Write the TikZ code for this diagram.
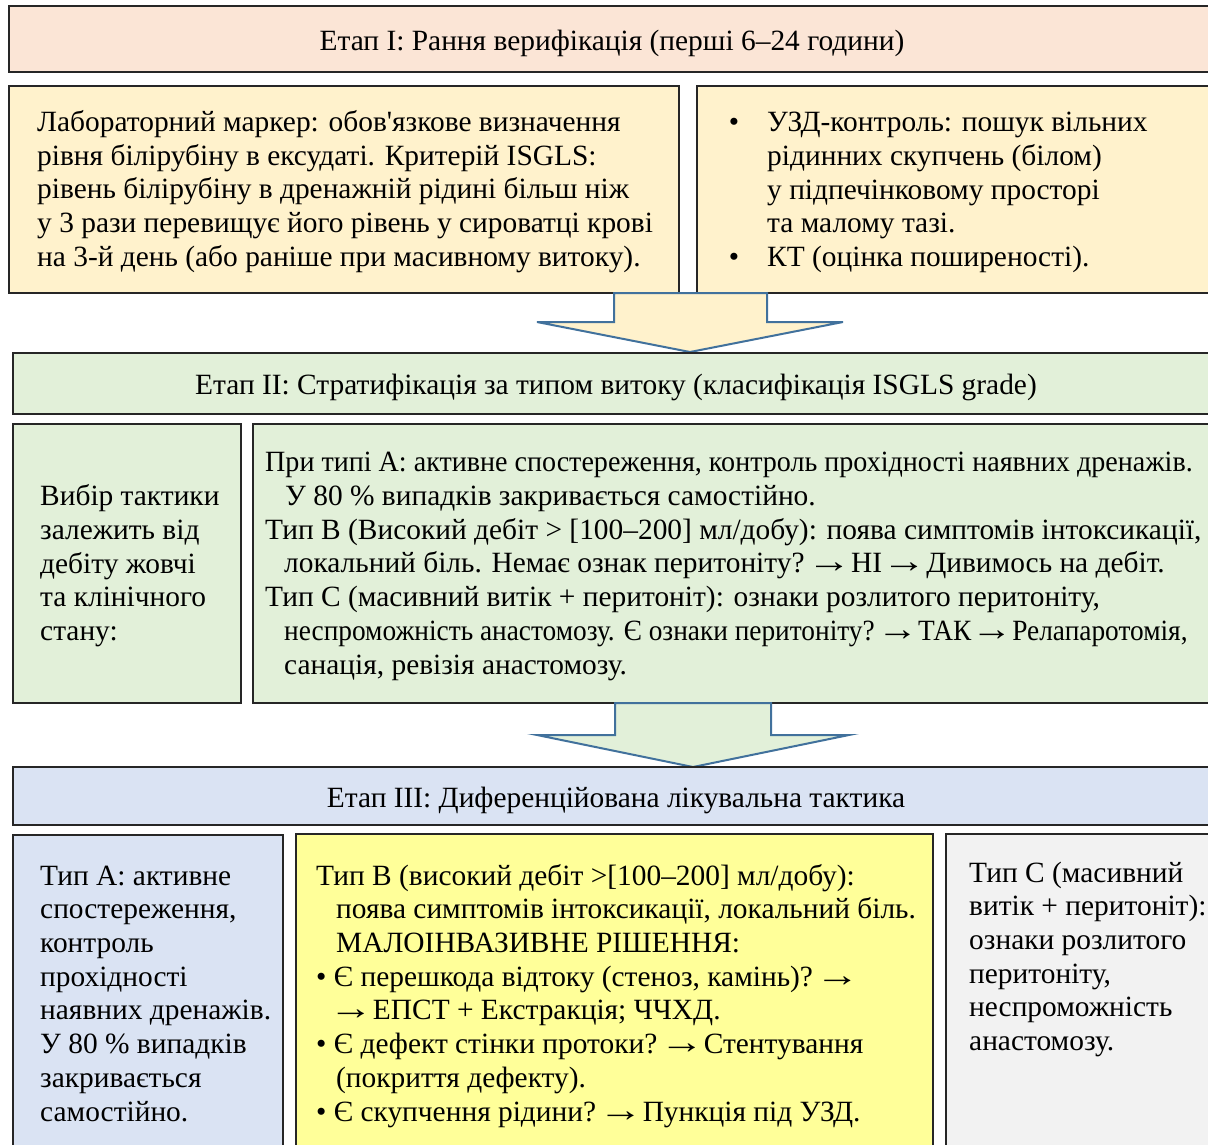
\documentclass[tikz,border=0pt]{standalone}
\usepackage{fontspec}
\usepackage{graphicx}
\setmainfont{Liberation Serif}
\newfontfamily\plainserif{Liberation Serif}
\newcommand{\myarr}{\sbox0{→}\makebox[\wd0][c]{\scalebox{1.5}[1.15]{→}}}
\usetikzlibrary{calc}
\definecolor{pinkF}{HTML}{FBE5D6}
\definecolor{yelF}{HTML}{FFF2CC}
\definecolor{grnF}{HTML}{E2F0D9}
\definecolor{bluF}{HTML}{DAE3F3}
\definecolor{ylwF}{HTML}{FFFF99}
\definecolor{gryF}{HTML}{F2F2F2}
\definecolor{arrowS}{HTML}{41719C}
\definecolor{boxS}{HTML}{262626}
\begin{document}
\begin{tikzpicture}[x=1pt,y=-1pt,
 box/.style={draw=boxS,line width=1.2pt,inner sep=0pt,outer sep=0pt,anchor=north west},
 txt/.style={inner sep=0pt,anchor=base west,align=left,font=\fontsize{29.4}{33.7}\selectfont},
 ttl/.style={inner sep=0pt,anchor=base,font=\fontsize{29.4}{33.7}\selectfont},
 barrow/.style={draw=arrowS,line width=2pt,line join=miter}]
\useasboundingbox (0,0) rectangle (1208,1144);
\clip (0,0) rectangle (1208,1144);
% Stage I
\node[box,fill=pinkF,minimum width=1206pt,minimum height=66pt] (s1) at (9,6) {};
\node[ttl] (t1) at ($(s1.center)+(0,11)$) {Етап I: Рання верифікація (перші 6–24 години)};
\node[box,fill=yelF,minimum width=670pt,minimum height=207pt] (s1a) at (9,86) {};
\node[box,fill=yelF,minimum width=520pt,minimum height=207pt] (s1b) at (697,86) {};
\node[txt] (t1a) at (37,266.1) {Лабораторний маркер: обов{\plainserif'}язкове визначення\\рівня білірубіну в ексудаті. Критерій ISGLS:\\рівень білірубіну в дренажній рідині більш ніж\\у 3 рази перевищує його рівень у сироватці крові\\на 3-й день (або раніше при масивному витоку).};
\node[txt] (t1b) at (767,266.5) {\llap{•\hspace{28pt}}УЗД-контроль: пошук вільних\\рідинних скупчень (білом)\\у підпечінковому просторі\\та малому тазі.\\\llap{•\hspace{28pt}}КТ (оцінка поширеності).};
% Arrow 1
\draw[barrow,fill=yelF] (614,293) -- (614,322) -- (537,322) -- (690,352) coordinate (a1tip) -- (843,322) -- (767,322) -- (767,293) -- cycle;
% Stage II
\node[box,fill=grnF,minimum width=1206pt,minimum height=61pt] (s2) at (13,353) {};
\node[ttl] (t2) at ($(s2.center)+(0,11)$) {Етап II: Стратифікація за типом витоку (класифікація ISGLS grade)};
\node[box,fill=grnF,minimum width=228pt,minimum height=279pt] (s2a) at (13,424) {};
\node[box,fill=grnF,minimum width=966pt,minimum height=279pt] (s2b) at (253,424) {};
\node[txt] (t2a) at (40,640.5) {Вибір тактики\\залежить від\\дебіту жовчі\\та клінічного\\стану:};
\node[txt] (t2b) at (265,674) {\scalebox{0.955}[1]{При типі А: активне спостереження, контроль прохідності наявних дренажів.}\\
\hspace*{20pt}У 80~\% випадків закривається самостійно.\\
Тип В (Високий дебіт > [100–200] мл/добу): поява симптомів інтоксикації,\\
\hspace*{19pt}локальний біль. Немає ознак перитоніту? \myarr{} НІ \myarr{} Дивимось на дебіт.\\
Тип С (масивний витік + перитоніт): ознаки розлитого перитоніту,\\
\hspace*{19pt}\scalebox{0.93}[1]{неспроможність анастомозу. Є ознаки перитоніту? \myarr{} ТАК \myarr{} Релапаротомія,}\\
\hspace*{19pt}санація, ревізія анастомозу.};
% Arrow 2
\draw[barrow,fill=grnF] (615,703) -- (615,735) -- (537,735) -- (693,767) coordinate (a2tip) -- (849,735) -- (771,735) -- (771,703) -- cycle;
% Stage III
\node[box,fill=bluF,minimum width=1206pt,minimum height=58pt] (s3) at (13,767) {};
\node[ttl] (t3) at ($(s3.center)+(0,11)$) {Етап III: Диференційована лікувальна тактика};
\node[box,fill=bluF,minimum width=270pt,minimum height=330pt] (s3a) at (13,835) {};
\node[box,fill=ylwF,minimum width=637pt,minimum height=330pt] (s3b) at (296,834) {};
\node[box,fill=gryF,minimum width=270pt,minimum height=330pt] (s3c) at (946,834) {};
\node[txt] (t3a) at (40,1121) {Тип А: активне\\спостереження,\\контроль\\прохідності\\наявних дренажів.\\У 80~\% випадків\\закривається\\самостійно.};
\node[txt] (t3b) at (316,1121) {Тип В (високий дебіт >[100–200] мл/добу):\\
\hspace*{20pt}поява симптомів інтоксикації, локальний біль.\\
\hspace*{20pt}МАЛОІНВАЗИВНЕ РІШЕННЯ:\\
• Є перешкода відтоку (стеноз, камінь)? \myarr\\
\hspace*{20pt}\myarr{} ЕПСТ + Екстракція; ЧЧХД.\\
• Є дефект стінки протоки? \myarr{} Стентування\\
\hspace*{20pt}(покриття дефекту).\\
• Є скупчення рідини? \myarr{} Пункція під УЗД.};
\node[txt] (t3c) at (969,1050.5) {Тип С (масивний\\витік + перитоніт):\\ознаки розлитого\\перитоніту,\\неспроможність\\анастомозу.};
\end{tikzpicture}
\end{document}
